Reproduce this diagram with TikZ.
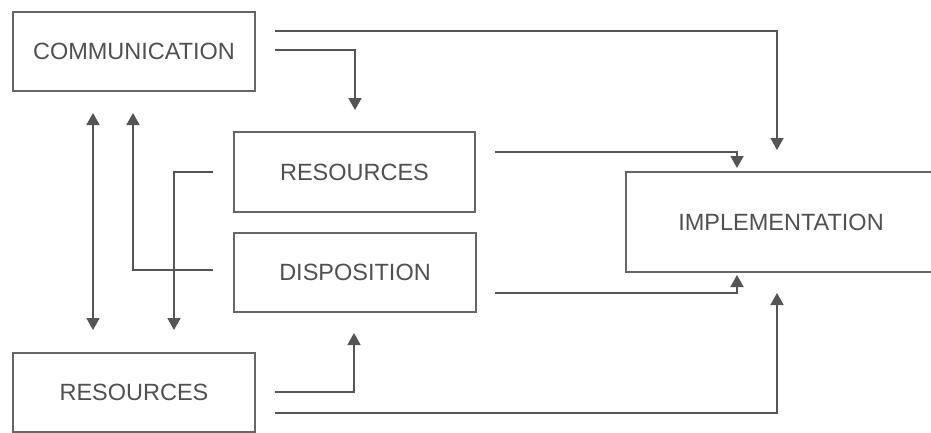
\documentclass[tikz,border=0pt]{standalone}
\usepackage{fontspec}
\setmainfont{Liberation Sans}
\usetikzlibrary{arrows.meta}
\definecolor{linegray}{HTML}{555555}
\definecolor{textgray}{HTML}{505050}
\definecolor{boxgray}{HTML}{666666}
\begin{document}
\begin{tikzpicture}[x=1pt,y=-1pt,
  box/.style={draw=boxgray, line width=1.6pt, fill=white, rectangle, inner sep=0pt,
    text=textgray, font=\fontsize{23.5}{27}\selectfont},
  conn/.style={draw=linegray, line width=1.8pt, -{Triangle[width=13pt,length=12pt]}},
  dconn/.style={draw=linegray, line width=1.8pt, {Triangle[width=13pt,length=12pt]}-{Triangle[width=13pt,length=12pt]}}]
\useasboundingbox (0,0) rectangle (931,432);
\fill[white] (0,0) rectangle (931,432);
\begin{scope}
\clip (0,0) rectangle (931,432);
\node[box, minimum width=242pt, minimum height=79pt] (comm) at (134,51.5) {COMMUNICATION};
\node[box, minimum width=241pt, minimum height=80pt] (resm) at (354.5,172) {RESOURCES};
\node[box, minimum width=242pt, minimum height=79pt] (disp) at (355,272.5) {DISPOSITION};
\node[box, minimum width=242pt, minimum height=79pt] (resb) at (134,392.5) {RESOURCES};
\node[box, minimum width=310pt, minimum height=100pt] (impl) at (781,222) {IMPLEMENTATION};
\end{scope}
% free ends of connectors
\coordinate (c1s) at (275,31);   \coordinate (c1e) at (777,150);
\coordinate (c2s) at (275,50);   \coordinate (c2e) at (355,110);
\coordinate (c3s) at (495,152);  \coordinate (c3e) at (737,168);
\coordinate (c4s) at (495,293);  \coordinate (c4e) at (737,275);
\coordinate (c5s) at (275,392);  \coordinate (c5e) at (354,333);
\coordinate (c6s) at (275,413);  \coordinate (c6e) at (777,293);
\coordinate (c7s) at (93,113);   \coordinate (c7e) at (93,330);
\coordinate (c8s) at (213,270);  \coordinate (c8e) at (133,113);
\coordinate (c9s) at (213,172);  \coordinate (c9e) at (174,330);
\draw[conn] (c1s) -| (c1e);
\draw[conn] (c2s) -| (c2e);
\draw[conn] (c3s) -| (c3e);
\draw[conn] (c4s) -| (c4e);
\draw[conn] (c5s) -| (c5e);
\draw[conn] (c6s) -| (c6e);
\draw[dconn] (c7s) -- (c7e);
\draw[conn] (c8s) -| (c8e);
\draw[conn] (c9s) -| (c9e);
\end{tikzpicture}
\end{document}
